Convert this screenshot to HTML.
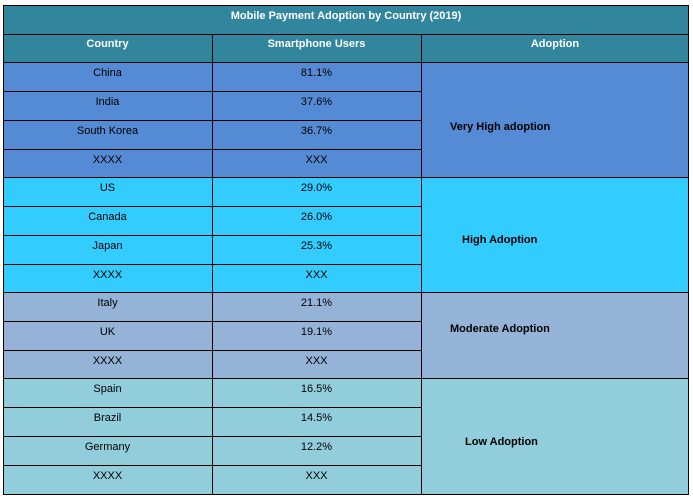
<!DOCTYPE html>
<html><head><meta charset="utf-8"><style>
body{margin:0;width:693px;height:498px;background:#fff;font-family:"Liberation Sans",sans-serif;font-size:11px;color:#000;position:relative;overflow:hidden}
.c{position:absolute;box-sizing:border-box;text-align:center;line-height:16px;padding-top:3px}
.h{background:#31859c;color:#fff;font-weight:bold}
.vh{background:#558ad4}.hi{background:#33ccff}.mo{background:#95b3d7}.lo{background:#92cddc}
.a{font-weight:bold;text-align:left}
.ln{position:absolute;background:#000}
</style></head><body>
<div class="c h" style="left:3px;top:5px;width:686px;height:29px;padding-top:3px">Mobile Payment Adoption by Country (2019)</div>
<div class="c h" style="left:3px;top:34px;width:209px;height:28px;padding-top:2px">Country</div>
<div class="c h" style="left:212px;top:34px;width:209px;height:28px;padding-top:2px">Smartphone Users</div>
<div class="c h" style="left:421px;top:34px;width:268px;height:28px;padding-top:2px">Adoption</div>
<div id="rows"></div>
<div class="c vh a" style="left:421px;top:62px;width:268px;height:115px;padding:57px 0 0 29px">Very High adoption</div>
<div class="c hi a" style="left:421px;top:177px;width:268px;height:115px;padding:55px 0 0 41px">High Adoption</div>
<div class="c mo a" style="left:421px;top:292px;width:268px;height:86px;padding:29px 0 0 29px">Moderate Adoption</div>
<div class="c lo a" style="left:421px;top:378px;width:268px;height:116px;padding:56px 0 0 44px">Low Adoption</div>
<div id="lines"></div>
<script>
const countries=["China","India","South Korea","XXXX","US","Canada","Japan","XXXX","Italy","UK","XXXX","Spain","Brazil","Germany","XXXX"];
const users=["81.1%","37.6%","36.7%","XXX","29.0%","26.0%","25.3%","XXX","21.1%","19.1%","XXX","16.5%","14.5%","12.2%","XXX"];
const groups=["vh","vh","vh","vh","hi","hi","hi","hi","mo","mo","mo","lo","lo","lo","lo"];
const tops=[62,91,120,149,177,206,235,264,292,321,350,378,407,436,465,494];
const host=document.getElementById('rows');
for(let i=0;i<countries.length;i++){
 const h=tops[i+1]-tops[i];
 const a=document.createElement('div');
 a.className='c '+groups[i];
 a.style.cssText='left:3px;top:'+tops[i]+'px;width:209px;height:'+h+'px';
 a.textContent=countries[i];
 
 
 host.appendChild(a);
 const b=document.createElement('div');
 b.className='c '+groups[i];
 b.style.cssText='left:212px;top:'+tops[i]+'px;width:209px;height:'+h+'px';
 b.textContent=users[i];
 
 
 host.appendChild(b);
}
const L=document.getElementById('lines');
function line(x,y,w,h){const d=document.createElement('div');d.className='ln';d.style.cssText='left:'+x+'px;top:'+y+'px;width:'+w+'px;height:'+h+'px';


L.appendChild(d);}
line(3,5,686,1);line(3,34,686,1);line(3,494,686,1);
line(3,5,1,490);line(688,5,1,490);
line(212,34,1,460);line(421,34,1,460);
for(let i=0;i<tops.length;i++){line(3,tops[i],419,1);}
[62,177,292,378].forEach(y=>line(421,y,268,1));
</script>
</body></html>
